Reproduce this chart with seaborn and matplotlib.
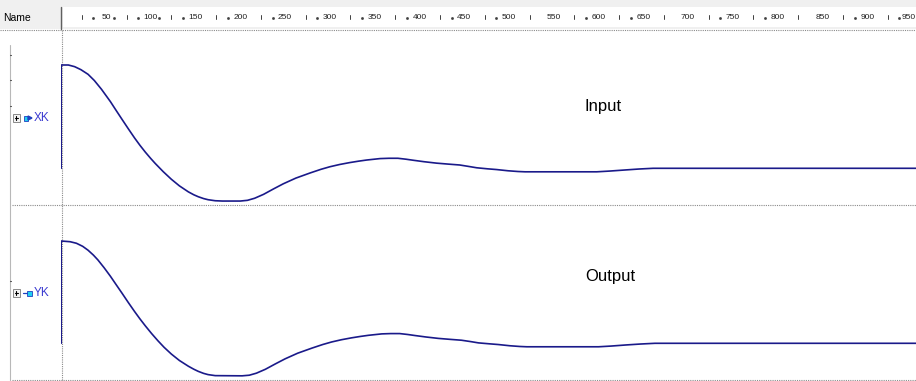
import matplotlib
matplotlib.use("Agg")
import matplotlib.pyplot as plt
from matplotlib.patches import Rectangle
from matplotlib.transforms import blended_transform_factory
import pandas as pd
import seaborn as sns

# ---- waveform samples (time in ns, normalised amplitude) ----
xk_time = [0, 0, 8, 15, 22, 30, 37, 45, 50, 55, 61, 68, 75, 82, 88, 94, 100,
           105, 114, 123, 132, 142, 148, 153, 159, 164, 172, 180, 200, 208,
           216, 226, 237, 248, 262, 278, 290, 300, 311, 322, 332, 341, 356,
           366, 376, 385, 393, 405, 419, 433, 445, 455, 464, 476, 486, 499,
           510, 518, 598, 612, 630, 645, 661, 955]
xk_value = [0.0, 1.0, 1.0, 0.984, 0.955, 0.91, 0.85, 0.765, 0.705, 0.645,
            0.565, 0.473, 0.382, 0.293, 0.222, 0.156, 0.095, 0.047, -0.033,
            -0.106, -0.17, -0.228, -0.256, -0.275, -0.293, -0.304, -0.314,
            -0.317, -0.317, -0.31, -0.29, -0.252, -0.20, -0.15, -0.095,
            -0.045, -0.01, 0.015, 0.037, 0.055, 0.069, 0.08, 0.094, 0.097,
            0.097, 0.088, 0.078, 0.064, 0.05, 0.04, 0.032, 0.018, 0.005,
            -0.005, -0.012, -0.024, -0.031, -0.034, -0.034, -0.027, -0.016,
            -0.007, 0.0, 0.0]

yk_time = [0, 0, 10, 17, 24, 30, 36, 41, 48, 55, 61, 68, 75, 82, 88, 94, 101,
           108, 115, 123, 132, 142, 148, 153, 159, 164, 172, 202, 210, 218,
           228, 239, 250, 264, 280, 292, 302, 313, 324, 334, 343, 358, 368,
           378, 387, 395, 407, 421, 435, 447, 457, 466, 478, 488, 501, 512,
           520, 600, 614, 631, 647, 663, 955]
yk_value = [0.0, 1.0, 0.993, 0.978, 0.948, 0.91, 0.862, 0.815, 0.738, 0.655,
            0.578, 0.489, 0.398, 0.31, 0.238, 0.17, 0.095, 0.025, -0.04,
            -0.105, -0.168, -0.224, -0.253, -0.274, -0.294, -0.306, -0.316,
            -0.318, -0.312, -0.292, -0.254, -0.202, -0.152, -0.097, -0.047,
            -0.012, 0.013, 0.035, 0.053, 0.067, 0.078, 0.092, 0.095, 0.095,
            0.086, 0.076, 0.062, 0.048, 0.038, 0.030, 0.017, 0.004, -0.005,
            -0.012, -0.024, -0.031, -0.034, -0.034, -0.027, -0.016, -0.007,
            0.0, 0.0]

signal_names = ["XK", "YK"]
signal_titles = ["Input", "Output"]
ruler_labels = list(range(50, 1000, 50))
no_dot_labels = [550, 700, 850]

W, H = 916, 381
NS_PER_PX = 1 / 0.8956
T_LEFT = -0.2
T_RIGHT = (W - 61.0) * NS_PER_PX + T_LEFT

sns.set_theme(style="white")
plt.rcParams["font.family"] = ["Liberation Sans", "DejaVu Sans"]

fig = plt.figure(figsize=(W / 100, H / 100), dpi=100)
fig.patch.set_facecolor("white")


def box(x0, y0, x1, y1):
    return [x0 / W, 1 - y1 / H, (x1 - x0) / W, (y1 - y0) / H]


# ---- frame, header and name column drawn in pixel space ----
frame = fig.add_axes([0, 0, 1, 1], zorder=0)
frame.set_xlim(0, W)
frame.set_ylim(H, 0)
frame.axis("off")

frame.add_patch(Rectangle((0, 0), W, 29, color="#f0f0f0", lw=0))
frame.add_patch(Rectangle((63, 7), W - 63, 20, color="white", lw=0))
frame.plot([61, 61], [7, 29], color="#606060", lw=1.0)
frame.text(3, 18, "Name", fontsize=7.5, va="center", ha="left", color="#000000")

dot = (0, (1, 1))
frame.plot([0, W], [29.5, 29.5], color="#8a8a8a", lw=0.8, ls=dot)
frame.plot([62, 62], [29.5, H], color="#8a8a8a", lw=0.8, ls=dot)
for yy in (205, 380):
    frame.plot([12, W], [yy, yy], color="#8a8a8a", lw=0.8, ls=dot)

# tree line in the name column
frame.plot([9.5, 9.5], [45, H], color="#b8b8b8", lw=0.8)
for yy in (55, 80, 106, 281):
    frame.plot([9.5, 11], [yy, yy], color="#505050", lw=0.8)

name_y = [118, 293]
for i, (nm, yy) in enumerate(zip(signal_names, name_y)):
    frame.add_patch(Rectangle((12.5, yy - 3.8), 7, 7.5, facecolor="#f4f4f4",
                              edgecolor="#8a8a8a", lw=0.7))
    frame.plot([14.5, 18], [yy, yy], color="black", lw=0.8)
    frame.plot([16.2, 16.2], [yy - 2, yy + 2], color="black", lw=0.8)
    if i == 0:
        frame.add_patch(Rectangle((24, yy - 2.5), 3.5, 5, facecolor="#20d0f0",
                                  edgecolor="#2040c0", lw=0.6))
        frame.fill([28, 32, 28], [yy - 2, yy, yy + 2], color="#2040c0")
    else:
        frame.plot([23, 27], [yy, yy], color="#2040c0", lw=0.9)
        frame.add_patch(Rectangle((27, yy - 2.5), 4.5, 5, facecolor="#20d0f0",
                                  edgecolor="#2040c0", lw=0.6))
    frame.text(34, yy, nm, fontsize=8.5, va="center", ha="left", color="#3a3ad0")

# ---- ruler ----
ruler = fig.add_axes(box(61, 7, W, 27), zorder=1)
ruler.set_xlim(T_LEFT, T_RIGHT)
ruler.set_ylim(0, 1)
ruler.axis("off")
rt = blended_transform_factory(ruler.transData, ruler.transAxes)
for lab in ruler_labels:
    last = lab == ruler_labels[-1]
    ruler.text(lab + 4.5 if last else lab, 0.48, str(lab), transform=rt,
               fontsize=6.0, ha="right" if last else "center", va="center",
               color="#202020")
    ruler.plot([lab - 27, lab - 27], [0.38, 0.6], transform=rt,
               color="#404040", lw=0.7)
    if lab not in no_dot_labels:
        ruler.plot([lab - 14], [0.45], transform=rt, marker="s", ms=0.9,
                   color="#404040", lw=0)
    if lab in (50, 100):
        ruler.plot([lab + 9], [0.45], transform=rt, marker="s", ms=0.9,
                   color="#404040", lw=0)

# ---- waveform rows ----
rows = [
    (xk_time, xk_value, 30, 205, 168.3, 103.3, signal_titles[0], 106),
    (yk_time, yk_value, 205, 380, 343.3, 102.3, signal_titles[1], 277),
]
line_color = "#1a1a8a"
for t, v, top, bot, zero_px, scale, title, title_y in rows:
    ax = fig.add_axes(box(61, top, W, bot), zorder=2)
    ax.patch.set_alpha(0)
    df = pd.DataFrame({"time": t, "value": v})
    sns.lineplot(data=df, x="time", y="value", ax=ax, sort=False,
                 estimator=None, color=line_color, lw=1.2)
    ax.set_xlim(T_LEFT, T_RIGHT)
    ax.set_ylim((zero_px - bot) / scale, (zero_px - top) / scale)
    ax.axis("off")
    frame.text(585, title_y, title, fontsize=12, ha="left", va="center",
               color="black")

fig.savefig("out.png", dpi=100)
